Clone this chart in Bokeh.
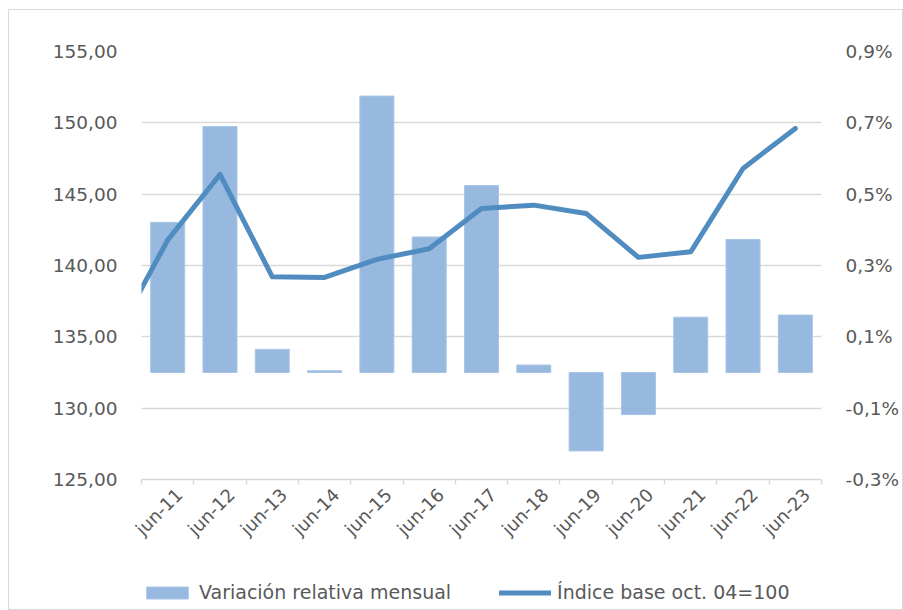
import math
from bokeh.plotting import figure
from bokeh.layouts import column
from bokeh.models import (Range1d, LinearAxis, FixedTicker, CustomJSTickFormatter,
                          Legend, LegendItem, ColumnDataSource)
from bokeh.embed import file_html
from bokeh.resources import INLINE

# ---- data ----
categories = ["jun-11", "jun-12", "jun-13", "jun-14", "jun-15", "jun-16", "jun-17",
              "jun-18", "jun-19", "jun-20", "jun-21", "jun-22", "jun-23"]
variacion_mensual = [0.421, 0.690, 0.065, 0.005, 0.775, 0.380, 0.524,
                     0.021, -0.220, -0.118, 0.155, 0.373, 0.161]   # %
indice_prev = 135.0   # jun-10 (outside the visible range)
indice_base = [141.78, 146.38, 139.21, 139.16, 140.43, 141.17, 144.00,
               144.23, 143.65, 140.57, 140.96, 146.80, 149.61]
left_ticks = [125, 130, 135, 140, 145, 150, 155]
right_ticks = [-0.3, -0.1, 0.1, 0.3, 0.5, 0.7, 0.9]
series_names = ["Variación relativa mensual", "Índice base oct. 04=100"]

TXT = "#595959"
FONT = "DejaVu Sans"
BAR = "#97b9df"
BAR_EDGE = "#a8c5e6"
LINE = "#508cbf"
GRID = "#d9d9d9"
LABEL_SHIFT = 0.22   # visual offset of rotated category labels

idx = list(range(len(categories)))
bar_src = ColumnDataSource(dict(x=idx, top=variacion_mensual))
line_src = ColumnDataSource(dict(x=[-1] + idx, y=[indice_prev] + indice_base))

W = 893
p = figure(width=W, height=552, output_backend="svg", toolbar_location=None,
           x_range=Range1d(-0.5, len(categories) - 0.5), y_range=Range1d(125, 155),
           min_border_left=132, min_border_right=78, min_border_top=41, min_border_bottom=83)
p.outline_line_color = None
p.background_fill_color = "white"
p.border_fill_color = "white"

p.extra_y_ranges = {"pct": Range1d(-0.3, 0.9)}

bars = p.vbar(x="x", top="top", bottom=0, width=0.65, source=bar_src, y_range_name="pct",
              fill_color=BAR, line_color=BAR_EDGE, line_width=1)
line = p.line(x="x", y="y", source=line_src, line_color=LINE, line_width=5,
              line_join="round", line_cap="round")

# x axis
xa = p.xaxis[0]
xa.ticker = FixedTicker(ticks=[i + LABEL_SHIFT for i in idx],
                        minor_ticks=[i - 0.5 for i in range(len(categories) + 1)])
xa.formatter = CustomJSTickFormatter(args=dict(cats=categories, off=LABEL_SHIFT),
                                     code="return cats[Math.round(tick - off)];")
xa.major_label_orientation = math.pi / 4
xa.major_tick_line_color = None
xa.minor_tick_line_color = GRID
xa.minor_tick_out = 5
xa.minor_tick_in = 0
xa.minor_tick_line_width = 1.5
xa.axis_line_color = GRID
xa.axis_line_width = 1.5
xa.major_label_text_color = TXT
xa.major_label_text_font = FONT
xa.major_label_text_font_size = "18px"
xa.major_label_standoff = 6

# left axis
ya = p.yaxis[0]
ya.ticker = FixedTicker(ticks=left_ticks)
ya.formatter = CustomJSTickFormatter(code="return tick.toFixed(2).replace('.', ',');")
ya.axis_line_color = None
ya.major_tick_line_color = None
ya.minor_tick_line_color = None
ya.major_label_standoff = 18
ya.major_label_text_color = TXT
ya.major_label_text_font = FONT
ya.major_label_text_font_size = "18.5px"

# right axis
ra = LinearAxis(y_range_name="pct")
ra.ticker = FixedTicker(ticks=right_ticks)
ra.formatter = CustomJSTickFormatter(code="return tick.toFixed(1).replace('.', ',') + '%';")
ra.axis_line_color = None
ra.major_tick_line_color = None
ra.minor_tick_line_color = None
ra.major_label_standoff = 18
ra.major_label_text_color = TXT
ra.major_label_text_font = FONT
ra.major_label_text_font_size = "18.5px"
p.add_layout(ra, "right")

p.xgrid.grid_line_color = None
p.ygrid.grid_line_color = GRID
p.ygrid.grid_line_width = 1.5
p.ygrid.ticker = FixedTicker(ticks=left_ticks)

# ---- legend strip (separate figure so it is not clipped by the main frame) ----
pl = figure(width=W, height=47, output_backend="svg", toolbar_location=None,
            x_range=Range1d(0, 1), y_range=Range1d(0, 1),
            x_axis_location=None, y_axis_location=None,
            min_border_left=0, min_border_right=0, min_border_top=0, min_border_bottom=0)
pl.outline_line_color = None
pl.grid.visible = False
pl.background_fill_color = "white"
pl.border_fill_color = "white"
# legend proxies, placed outside the visible range of this strip
lb = pl.vbar(x=[-10], top=[-10], bottom=[-11], width=0.65,
             fill_color=BAR, line_color=BAR_EDGE, line_width=1)
ll = pl.line(x=[-10, -9], y=[-10, -10], line_color=LINE, line_width=5, line_cap="round")

legend = Legend(items=[LegendItem(label=series_names[0], renderers=[lb]),
                       LegendItem(label=series_names[1], renderers=[ll])],
                orientation="horizontal", location=(0, 6),
                glyph_width=52, glyph_height=15, label_standoff=6, spacing=48,
                padding=0, margin=0, border_line_color=None, background_fill_alpha=0,
                label_text_color=TXT, label_text_font=FONT, label_text_font_size="19px")
pl.add_layout(legend, "center")

layout = column(p, pl, spacing=0,
                styles={"border": "1px solid #d9d9d9", "margin-left": "8px", "margin-top": "9px"})

open("out.html", "w").write(file_html(layout, INLINE))
